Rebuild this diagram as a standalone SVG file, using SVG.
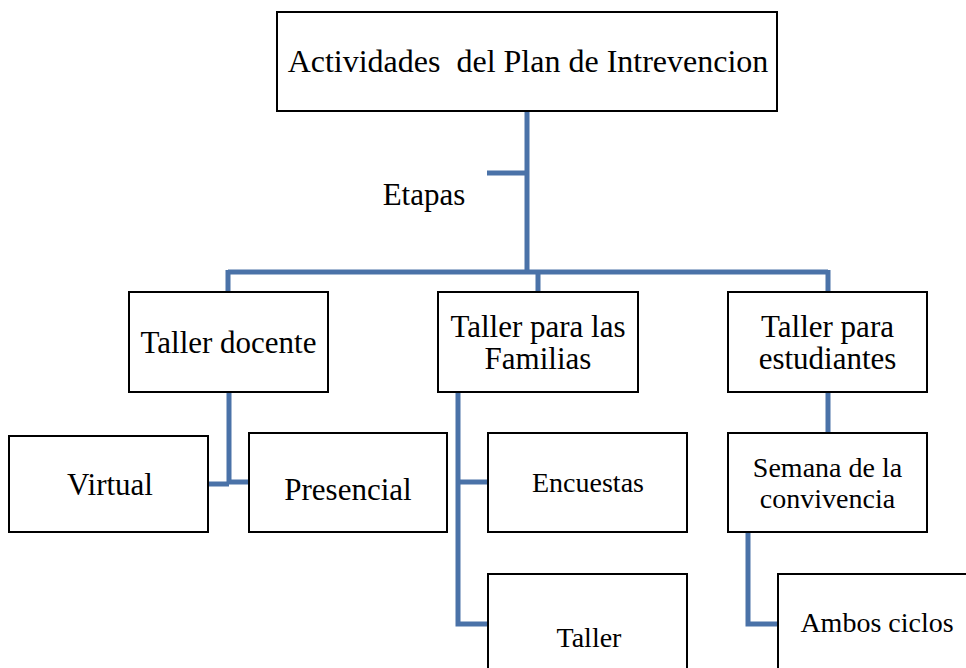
<svg xmlns="http://www.w3.org/2000/svg" width="966" height="668" viewBox="0 0 966 668">
<style>
.box{fill:#fff;stroke:#000;stroke-width:2}
.t{font-family:"Liberation Serif","Times New Roman",serif;fill:#000;text-anchor:middle;white-space:pre}
.l{font-size:31px}
.s{font-size:28px}
.c{fill:none;stroke:#4a72a8;stroke-width:5}
</style>
<rect width="966" height="668" fill="#fff"/>
<g id="connectors">
<path class="c" d="M527 111V272M487 173H527M228 272H828M228 270V292M538 270V292M828 270V292"/>
<path class="c" d="M229 392V484M208 484H229M229 482H249"/>
<path class="c" d="M458 392V624H488M458 482H488"/>
<path class="c" d="M828 392V433M748 532V624H778"/>
</g>
<g id="root"><rect class="box" x="277" y="12" width="500" height="99"/><text class="t" style="font-size:32px" x="528" y="72">Actividades  del Plan de Intrevencion</text></g>
<g id="etapas"><text class="t l" x="424" y="205">Etapas</text></g>
<g id="docente"><rect class="box" x="129" y="292" width="199" height="100"/><text class="t l" x="228.5" y="353">Taller docente</text></g>
<g id="familias"><rect class="box" x="438" y="292" width="200" height="100"/><text class="t l" x="538" y="337">Taller para las</text><text class="t l" x="538" y="369">Familias</text></g>
<g id="estudiantes"><rect class="box" x="728" y="292" width="199" height="100"/><text class="t l" x="827.5" y="337">Taller para</text><text class="t l" x="827.5" y="369">estudiantes</text></g>
<g id="virtual"><rect class="box" x="9" y="436" width="199" height="96"/><text class="t l" x="110" y="495">Virtual</text></g>
<g id="presencial"><rect class="box" x="249" y="433" width="198" height="99"/><text class="t l" x="348" y="500">Presencial</text></g>
<g id="encuestas"><rect class="box" x="488" y="433" width="199" height="99"/><text class="t s" x="588" y="492">Encuestas</text></g>
<g id="taller"><rect class="box" x="488" y="574" width="199" height="110"/><text class="t s" x="589" y="647">Taller</text></g>
<g id="semana"><rect class="box" x="728" y="433" width="199" height="99"/><text class="t s" x="827.5" y="477">Semana de la</text><text class="t s" x="827.5" y="508">convivencia</text></g>
<g id="ambos"><rect class="box" x="778" y="574" width="210" height="110"/><text class="t s" x="877" y="632">Ambos ciclos</text></g>
</svg>
